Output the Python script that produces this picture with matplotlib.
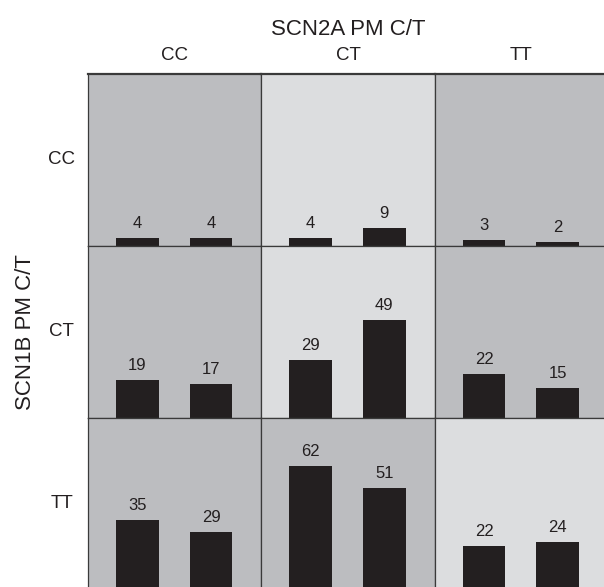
import matplotlib.pyplot as plt

plt.rcParams['font.family'] = ['Liberation Sans', 'DejaVu Sans']

# SCN1B genotype (rows) x SCN2A genotype (columns), two bars per cell
row_labels = ['CC', 'CT', 'TT']
col_labels = ['CC', 'CT', 'TT']
first_bar = [[4, 4, 3],
             [19, 29, 22],
             [35, 62, 22]]
second_bar = [[4, 9, 2],
              [17, 49, 15],
              [29, 51, 24]]
cell_shade = [['dark', 'light', 'dark'],
              ['dark', 'light', 'dark'],
              ['dark', 'dark', 'light']]

shades = {'dark': '#bcbdc0', 'light': '#dcdddf'}
bar_color = '#231f20'
line_color = '#3a3a3a'
txt = '#231f20'

W, H = 604, 587
fig = plt.figure(figsize=(W / 100, H / 100), dpi=100)
gs = fig.add_gridspec(3, 3, left=88 / W, right=608 / W,
                      top=1 - 74 / H, bottom=1 - 590 / H,
                      wspace=0, hspace=0)

for r in range(3):
    for c in range(3):
        ax = fig.add_subplot(gs[r, c])
        ax.set_facecolor(shades[cell_shade[r][c]])
        vals = [first_bar[r][c], second_bar[r][c]]
        bars = ax.bar([0.285, 0.71], vals, width=0.247, color=bar_color)
        for b, v in zip(bars, vals):
            ax.annotate(str(v), (b.get_x() + b.get_width() / 2, b.get_height()),
                        xytext=(0, 5), textcoords='offset points',
                        ha='center', va='bottom', fontsize=12, color=txt)
        ax.set_xlim(0, 1)
        ax.set_ylim(0, 86)
        ax.set_xticks([])
        ax.set_yticks([])
        for s in ax.spines.values():
            s.set_color(line_color)
            s.set_linewidth(0.9)
        if r == 0:
            ax.spines['top'].set_linewidth(1.6)
            ax.annotate(col_labels[c], (0.5, 1), xycoords='axes fraction',
                        xytext=(0, 10), textcoords='offset points',
                        ha='center', va='baseline', fontsize=13.5, color=txt)
            if c == 1:
                ax.annotate('SCN2A PM C/T', (0.5, 1), xycoords='axes fraction',
                            xytext=(0, 28), textcoords='offset points',
                            ha='center', va='baseline', fontsize=16, color=txt)
        if c == 0:
            ax.annotate(row_labels[r], (0, 0.5), xycoords='axes fraction',
                        xytext=(-19, 0), textcoords='offset points',
                        ha='center', va='center', fontsize=13.5, color=txt)
            if r == 1:
                ax.annotate('SCN1B PM C/T', (0, 0.5), xycoords='axes fraction',
                            xytext=(-45, 0), textcoords='offset points',
                            ha='center', va='center', rotation=90,
                            fontsize=16, color=txt)

fig.savefig('out.png', dpi=100)
